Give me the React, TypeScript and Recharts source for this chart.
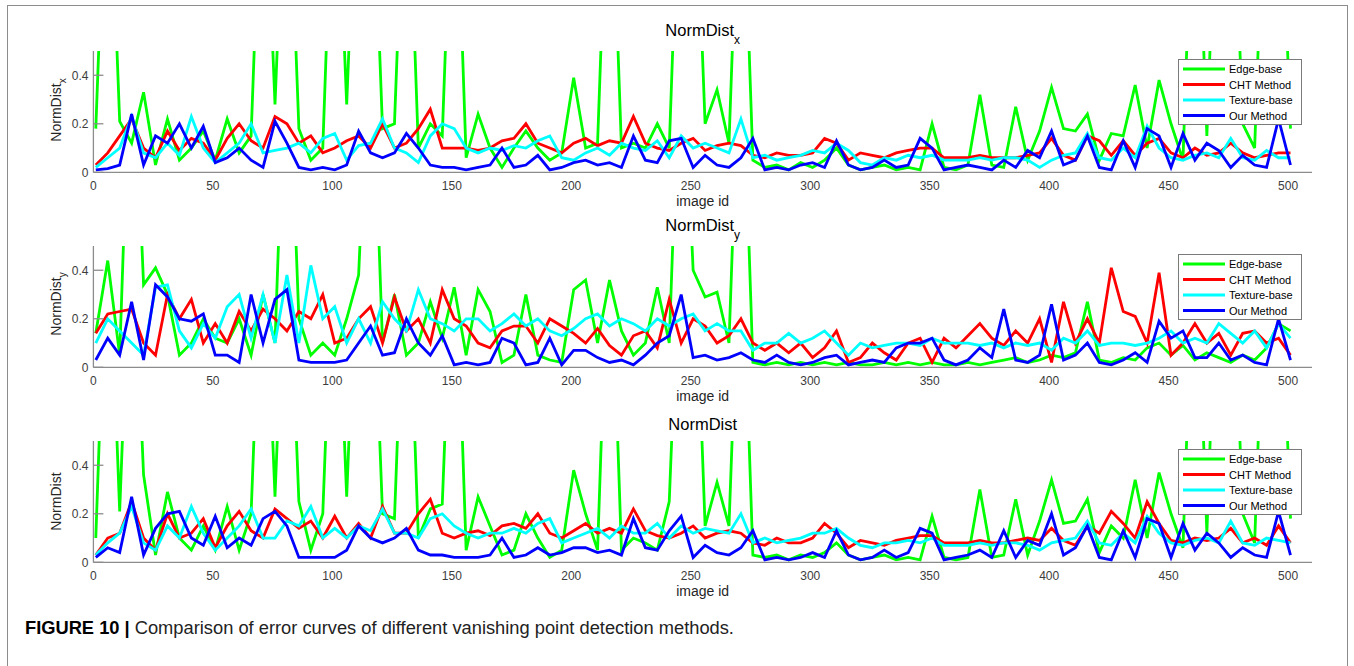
import React from 'react';
import { LineChart, Line, XAxis, YAxis, Legend } from 'recharts';

// image ids (sampled every 5 ids)
const imageIds = [
  1, 6, 11, 16, 21, 26, 31, 36, 41, 46,
  51, 56, 61, 66, 71, 76, 81, 86, 91, 96,
  101, 106, 111, 116, 121, 126, 131, 136, 141, 146,
  151, 156, 161, 166, 171, 176, 181, 186, 191, 196,
  201, 206, 211, 216, 221, 226, 231, 236, 241, 246,
  251, 256, 261, 266, 271, 276, 281, 286, 291, 296,
  301, 306, 311, 316, 321, 326, 331, 336, 341, 346,
  351, 356, 361, 366, 371, 376, 381, 386, 391, 396,
  401, 406, 411, 416, 421, 426, 431, 436, 441, 446,
  451, 456, 461, 466, 471, 476, 481, 486, 491, 496,
  501,
];

const xTicks = [0, 50, 100, 150, 200, 250, 300, 350, 400, 450, 500];
const yTicks = [0, 0.2, 0.4];
const seriesNames = ['Edge-base', 'CHT Method', 'Texture-base', 'Our Method'];

// ---------- NormDist_x ----------  (values above 0.5 are off-scale, clipped in the figure)
const edgeX = [
  0.18, 1.5, 0.21, 0.12, 0.33, 0.03, 0.22, 0.05, 0.1, 0.17,
  0.05, 0.22, 0.08, 0.15, 1.5, 0.28, 1.5, 0.18, 0.05, 0.1,
  1.5, 0.28, 1.5, 1.5, 0.18, 0.2, 1.5, 0.1, 0.2, 0.15,
  1.5, 0.06, 0.24, 0.1, 0.02, 0.1, 0.17, 0.1, 0.05, 0.08,
  0.39, 0.1, 0.12, 1.5, 0.1, 0.12, 0.1, 0.2, 0.1, 1.5,
  1.5, 0.2, 0.34, 0.12, 1.5, 0.05, 0.02, 0.03, 0.01, 0.04,
  0.02, 0.05, 0.1, 0.03, 0.01, 0.02, 0.03, 0.01, 0.02, 0.01,
  0.2, 0.02, 0.01, 0.03, 0.32, 0.03, 0.02, 0.27, 0.05, 0.17,
  0.35, 0.18, 0.17, 0.24, 0.05, 0.16, 0.15, 0.36, 0.1, 0.38,
  0.2, 0.05, 1.5, 0.15, 1.5, 1.5, 0.2, 0.1, 1.5, 1.5,
  0.18,
];
const chtX = [
  0.03, 0.08, 0.15, 0.22, 0.1, 0.06, 0.17, 0.09, 0.14, 0.12,
  0.05, 0.14, 0.2, 0.13, 0.1, 0.23, 0.2, 0.12, 0.15, 0.08,
  0.1, 0.13, 0.15, 0.1, 0.2, 0.1, 0.12, 0.18, 0.26, 0.1,
  0.1, 0.1, 0.09, 0.1, 0.13, 0.14, 0.2, 0.12, 0.1, 0.08,
  0.12, 0.14, 0.11, 0.13, 0.12, 0.23, 0.12, 0.1, 0.09, 0.12,
  0.14, 0.09, 0.11, 0.12, 0.11, 0.07, 0.06, 0.08, 0.07, 0.07,
  0.08, 0.14, 0.12, 0.05, 0.08, 0.07, 0.06, 0.08, 0.09, 0.1,
  0.1, 0.06, 0.06, 0.06, 0.07, 0.06, 0.06, 0.06, 0.07, 0.08,
  0.14, 0.07, 0.05, 0.15, 0.13, 0.07, 0.13, 0.07, 0.12, 0.14,
  0.08, 0.06, 0.1, 0.07, 0.08, 0.12, 0.08, 0.06, 0.07, 0.08,
  0.08,
];
const textureX = [
  0.02, 0.06, 0.1, 0.23, 0.08, 0.06, 0.12, 0.07, 0.23, 0.1,
  0.04, 0.08, 0.12, 0.2, 0.08, 0.09, 0.1, 0.12, 0.08, 0.14,
  0.16, 0.05, 0.11, 0.12, 0.22, 0.1, 0.08, 0.04, 0.15, 0.2,
  0.18, 0.1, 0.08, 0.1, 0.09, 0.11, 0.1, 0.13, 0.15, 0.06,
  0.05, 0.08, 0.1, 0.07, 0.12, 0.1, 0.09, 0.13, 0.06, 0.15,
  0.1, 0.12, 0.1, 0.08, 0.22, 0.06, 0.07, 0.05, 0.06, 0.07,
  0.09, 0.08, 0.12, 0.09, 0.04, 0.03, 0.06, 0.05, 0.07, 0.06,
  0.07, 0.05, 0.05, 0.05, 0.06, 0.05, 0.06, 0.06, 0.05, 0.02,
  0.05, 0.07, 0.08, 0.16, 0.06, 0.05, 0.1, 0.06, 0.19, 0.1,
  0.06, 0.05, 0.07, 0.08, 0.06, 0.14, 0.06, 0.05, 0.09, 0.06,
  0.06,
];
const ourX = [
  0.01, 0.015, 0.03, 0.24, 0.03, 0.15, 0.12, 0.2, 0.1, 0.19,
  0.04, 0.06, 0.1, 0.05, 0.02, 0.21, 0.12, 0.02, 0.01, 0.02,
  0.01, 0.03, 0.17, 0.08, 0.06, 0.08, 0.16, 0.1, 0.03, 0.02,
  0.02, 0.01, 0.02, 0.03, 0.1, 0.02, 0.03, 0.07, 0.01, 0.02,
  0.04, 0.05, 0.03, 0.04, 0.02, 0.15, 0.05, 0.04, 0.13, 0.14,
  0.02, 0.07, 0.03, 0.02, 0.06, 0.14, 0.01, 0.02, 0.01, 0.03,
  0.04, 0.02, 0.13, 0.03, 0.01, 0.02, 0.05, 0.02, 0.03, 0.14,
  0.1, 0.01, 0.02, 0.03, 0.02, 0.01, 0.05, 0.02, 0.09, 0.06,
  0.17, 0.03, 0.05, 0.15, 0.02, 0.01, 0.13, 0.02, 0.18, 0.15,
  0.02, 0.16, 0.05, 0.12, 0.09, 0.02, 0.07, 0.03, 0.02, 0.22,
  0.03,
];

// ---------- NormDist_y ----------
const edgeY = [
  0.14, 0.44, 0.05, 1.5, 0.34, 0.41, 0.3, 0.05, 0.1, 0.2,
  0.12, 0.1, 0.2, 0.05, 0.3, 0.1, 1.5, 0.2, 0.05, 0.1,
  0.05, 0.2, 0.38, 1.5, 0.1, 0.3, 0.05, 0.1, 0.27, 0.12,
  0.33, 0.05, 0.32, 0.23, 0.02, 0.05, 0.3, 0.05, 0.03, 0.02,
  0.32, 0.36, 0.1, 0.36, 0.15, 0.05, 0.1, 0.33, 0.1, 1.5,
  0.4, 0.29, 0.31, 0.1, 1.5, 0.02, 0.01, 0.02, 0.01, 0.02,
  0.01, 0.02, 0.01, 0.02, 0.01, 0.01, 0.02, 0.01, 0.02, 0.01,
  0.02, 0.01, 0.01, 0.02, 0.01, 0.02, 0.03, 0.04, 0.02, 0.03,
  0.05, 0.04, 0.06, 0.27, 0.03, 0.02, 0.04, 0.03, 0.08, 0.1,
  0.05, 0.09, 0.03, 0.06, 0.04, 0.02, 0.05, 0.03, 0.08, 0.18,
  0.15,
];
const chtY = [
  0.14, 0.22, 0.23, 0.24, 0.1, 0.05, 0.3, 0.2, 0.28, 0.1,
  0.18, 0.1, 0.23, 0.15, 0.24, 0.2, 0.15, 0.23, 0.2, 0.3,
  0.1, 0.12, 0.2, 0.25, 0.1, 0.29, 0.15, 0.2, 0.1, 0.32,
  0.2, 0.17, 0.1, 0.08, 0.15, 0.17, 0.17, 0.1, 0.2, 0.17,
  0.14, 0.1, 0.16, 0.09, 0.05, 0.13, 0.15, 0.08, 0.28, 0.1,
  0.2, 0.17, 0.1, 0.13, 0.2, 0.1, 0.07, 0.1, 0.06, 0.1,
  0.04, 0.08, 0.15, 0.02, 0.04, 0.1, 0.06, 0.03, 0.1, 0.12,
  0.02, 0.12, 0.08, 0.13, 0.18, 0.12, 0.09, 0.15, 0.1, 0.2,
  0.02, 0.27, 0.1, 0.2, 0.1, 0.41, 0.23, 0.21, 0.1, 0.39,
  0.05, 0.1, 0.18, 0.1, 0.14, 0.05, 0.14, 0.15, 0.1, 0.12,
  0.05,
];
const textureY = [
  0.1, 0.2, 0.15, 0.1, 0.05, 0.33, 0.34, 0.15, 0.08, 0.18,
  0.12, 0.25, 0.3, 0.12, 0.3, 0.1, 0.38, 0.1, 0.42, 0.2,
  0.25, 0.1, 0.2, 0.1, 0.27, 0.2, 0.15, 0.32, 0.2, 0.18,
  0.15, 0.2, 0.2, 0.15, 0.18, 0.22, 0.17, 0.2, 0.15, 0.13,
  0.16, 0.2, 0.22, 0.17, 0.2, 0.18, 0.15, 0.2, 0.17, 0.2,
  0.22, 0.15, 0.18, 0.15, 0.15, 0.07, 0.1, 0.1, 0.14, 0.1,
  0.12, 0.15, 0.1, 0.05, 0.1, 0.08, 0.09, 0.1, 0.1, 0.09,
  0.12, 0.1, 0.1, 0.1, 0.09, 0.1, 0.08, 0.1, 0.09, 0.1,
  0.07, 0.12, 0.1, 0.15, 0.09, 0.1, 0.1, 0.09, 0.1, 0.12,
  0.15, 0.1, 0.12, 0.1, 0.18, 0.14, 0.1, 0.15, 0.08, 0.18,
  0.12,
];
const ourY = [
  0.03, 0.12, 0.05, 0.27, 0.03, 0.34, 0.29, 0.2, 0.19, 0.22,
  0.05, 0.05, 0.02, 0.3, 0.1, 0.28, 0.32, 0.03, 0.02, 0.02,
  0.02, 0.03, 0.1, 0.17, 0.05, 0.06, 0.2, 0.1, 0.05, 0.13,
  0.01, 0.02, 0.01, 0.02, 0.12, 0.1, 0.01, 0.02, 0.12, 0.01,
  0.07, 0.07, 0.04, 0.02, 0.03, 0.01, 0.05, 0.1, 0.13, 0.3,
  0.04, 0.05, 0.03, 0.04, 0.06, 0.03, 0.02, 0.05, 0.02, 0.01,
  0.02, 0.04, 0.05, 0.01, 0.02, 0.03, 0.02, 0.08, 0.1, 0.1,
  0.12, 0.03, 0.01, 0.03, 0.08, 0.04, 0.24, 0.03, 0.02, 0.05,
  0.26, 0.03, 0.05, 0.1, 0.02, 0.01, 0.03, 0.06, 0.02, 0.19,
  0.12, 0.15, 0.04, 0.04, 0.1, 0.03, 0.05, 0.02, 0.01, 0.2,
  0.03,
];

// ---------- NormDist ----------
const edgeD = [
  0.1, 1.5, 0.21, 1.5, 0.36, 0.03, 0.29, 0.1, 0.05, 0.15,
  0.05, 0.23, 0.05, 0.2, 1.5, 0.27, 1.5, 0.25, 0.05, 0.2,
  1.5, 0.27, 1.5, 1.5, 0.2, 0.18, 1.5, 0.1, 0.22, 0.24,
  1.5, 0.05, 0.27, 0.15, 0.03, 0.05, 0.2, 0.1, 0.02, 0.05,
  0.38, 0.2, 0.05, 1.5, 0.05, 0.1, 0.08, 0.05, 0.25, 1.5,
  1.5, 0.15, 0.33, 0.15, 1.5, 0.03, 0.02, 0.03, 0.01, 0.03,
  0.02, 0.04, 0.08, 0.03, 0.01, 0.02, 0.03, 0.01, 0.02, 0.01,
  0.19, 0.02, 0.01, 0.02, 0.3, 0.02, 0.03, 0.26, 0.03, 0.17,
  0.34, 0.16, 0.17, 0.26, 0.04, 0.15, 0.1, 0.34, 0.1, 0.37,
  0.2, 0.06, 1.5, 0.12, 1.5, 1.5, 0.2, 0.08, 1.5, 1.5,
  0.18,
];
const chtD = [
  0.03, 0.1, 0.12, 0.25, 0.1, 0.05, 0.2, 0.1, 0.12, 0.18,
  0.06, 0.15, 0.21, 0.13, 0.1, 0.22, 0.18, 0.14, 0.17, 0.1,
  0.19, 0.1, 0.16, 0.1, 0.23, 0.12, 0.12, 0.2, 0.26, 0.12,
  0.1, 0.12, 0.13, 0.11, 0.15, 0.16, 0.14, 0.2, 0.12, 0.1,
  0.13, 0.16, 0.12, 0.14, 0.12, 0.22, 0.13, 0.11, 0.1, 0.12,
  0.15, 0.1, 0.12, 0.13, 0.12, 0.08, 0.07, 0.1, 0.08, 0.08,
  0.1, 0.16, 0.12, 0.06, 0.09, 0.08, 0.07, 0.09, 0.1, 0.11,
  0.11, 0.08, 0.08, 0.08, 0.09, 0.08, 0.08, 0.09, 0.1, 0.09,
  0.14, 0.09, 0.07, 0.15, 0.12, 0.21, 0.16, 0.1, 0.25, 0.16,
  0.09, 0.08, 0.1, 0.09, 0.1, 0.14, 0.08, 0.1, 0.07, 0.15,
  0.08,
];
const textureD = [
  0.03, 0.08, 0.12, 0.23, 0.08, 0.05, 0.15, 0.1, 0.23, 0.12,
  0.05, 0.1, 0.15, 0.22, 0.1, 0.1, 0.17, 0.15, 0.23, 0.1,
  0.14, 0.1, 0.15, 0.13, 0.22, 0.12, 0.12, 0.1, 0.18, 0.2,
  0.15, 0.12, 0.1, 0.12, 0.12, 0.14, 0.12, 0.16, 0.18, 0.08,
  0.1, 0.12, 0.14, 0.1, 0.15, 0.12, 0.12, 0.16, 0.1, 0.15,
  0.12, 0.14, 0.13, 0.12, 0.2, 0.08, 0.1, 0.08, 0.09, 0.1,
  0.12, 0.12, 0.14, 0.1, 0.07, 0.06, 0.08, 0.08, 0.09, 0.08,
  0.1, 0.07, 0.07, 0.07, 0.08, 0.07, 0.08, 0.08, 0.07, 0.05,
  0.08, 0.09, 0.1, 0.17, 0.08, 0.07, 0.12, 0.08, 0.19, 0.12,
  0.08, 0.07, 0.09, 0.1, 0.08, 0.17, 0.08, 0.07, 0.1, 0.09,
  0.08,
];
const ourD = [
  0.02, 0.06, 0.04, 0.27, 0.03, 0.14, 0.2, 0.21, 0.1, 0.07,
  0.19, 0.06, 0.1, 0.07, 0.18, 0.21, 0.15, 0.02, 0.02, 0.02,
  0.02, 0.05, 0.15, 0.1, 0.08, 0.1, 0.14, 0.05, 0.03, 0.03,
  0.02, 0.02, 0.02, 0.03, 0.1, 0.02, 0.03, 0.06, 0.03, 0.04,
  0.06, 0.06, 0.04, 0.05, 0.03, 0.18, 0.06, 0.05, 0.13, 0.19,
  0.02, 0.07, 0.04, 0.03, 0.06, 0.13, 0.01, 0.02, 0.01, 0.02,
  0.04, 0.02, 0.13, 0.03, 0.01, 0.02, 0.05, 0.02, 0.04, 0.14,
  0.12, 0.01, 0.02, 0.03, 0.05, 0.02, 0.13, 0.02, 0.09, 0.07,
  0.2, 0.03, 0.06, 0.15, 0.02, 0.01, 0.13, 0.02, 0.18, 0.16,
  0.02, 0.16, 0.05, 0.12, 0.08, 0.02, 0.06, 0.03, 0.02, 0.21,
  0.03,
];

const FONT = '"Liberation Sans", Arial, Helvetica, sans-serif';
const COLORS = ['#00ff00', '#ff0000', '#00ffff', '#0000ff'];
const AXIS_COLOR = '#8c8c8c';
const TICK_COLOR = '#3c3c3c';

const CHART_W = 1354;
const CHART_H = 195;
const PLOT_LEFT = 93.4;
const PLOT_RIGHT = 1312;
const PLOT_TOP = 51;
const PLOT_BOTTOM = 172.3;
const Y_AXIS_W = 40;
const X_AXIS_H = 20;

const buildRows = (a: number[], b: number[], c: number[], d: number[]) =>
  imageIds.map((id, i) => ({ id, edge: a[i], cht: b[i], texture: c[i], our: d[i] }));

const rowsX = buildRows(edgeX, chtX, textureX, ourX);
const rowsY = buildRows(edgeY, chtY, textureY, ourY);
const rowsD = buildRows(edgeD, chtD, textureD, ourD);

const YTick = (props: any) => {
  const { x, y, payload } = props;
  const axisX = x + 5;
  return (
    <g>
      <line x1={axisX} x2={axisX + 10} y1={y} y2={y} stroke={AXIS_COLOR} strokeWidth={1.3} />
      <text x={x} y={y} dy={4.3} textAnchor="end" fontSize={12} fill={TICK_COLOR} fontFamily={FONT}>
        {String(payload.value)}
      </text>
    </g>
  );
};

const LegendBox = (props: any) => {
  const payload = [...(props.payload || [])].sort(
    (a: any, b: any) => seriesNames.indexOf(a.value) - seriesNames.indexOf(b.value)
  );
  return (
    <svg width={124} height={66} style={{ display: 'block' }}>
      <rect x={0.5} y={0.5} width={123} height={65} fill="#ffffff" stroke="#7a7a7a" strokeWidth={1} />
      {payload.map((e: any, i: number) => {
        const cy = 10 + i * 15.5;
        return (
          <g key={i}>
            <line x1={5} x2={47} y1={cy} y2={cy} stroke={e.color} strokeWidth={3} />
            <text x={51} y={cy + 4} fontSize={11} fill="#000000" fontFamily={FONT}>
              {e.value}
            </text>
          </g>
        );
      })}
    </svg>
  );
};

const keys = ['edge', 'cht', 'texture', 'our'];

const Panel = ({ top, rows }: { top: number; rows: any[] }) => (
  <div style={{ position: 'absolute', left: 0, top }}>
    <LineChart
      width={CHART_W}
      height={CHART_H}
      data={rows}
      margin={{
        top: PLOT_TOP,
        right: CHART_W - PLOT_RIGHT,
        bottom: CHART_H - PLOT_BOTTOM - X_AXIS_H,
        left: PLOT_LEFT - Y_AXIS_W,
      }}
    >
      <XAxis
        dataKey="id"
        type="number"
        domain={[0, 510]}
        ticks={xTicks}
        interval={0}
        height={X_AXIS_H}
        tickSize={0}
        tickMargin={9}
        tickLine={false}
        axisLine={{ stroke: AXIS_COLOR, strokeWidth: 1.3 }}
        tick={{ fontSize: 12, fill: TICK_COLOR, fontFamily: FONT }}
      />
      <YAxis
        type="number"
        domain={[0, 0.5]}
        ticks={yTicks}
        interval={0}
        allowDataOverflow
        width={Y_AXIS_W}
        tickSize={0}
        tickMargin={5}
        tickLine={false}
        axisLine={{ stroke: AXIS_COLOR, strokeWidth: 1.3 }}
        tick={<YTick />}
      />
      {keys.map((k, i) => (
        <Line
          key={k}
          type="linear"
          dataKey={k}
          name={seriesNames[i]}
          stroke={COLORS[i]}
          strokeWidth={2.8}
          dot={false}
          activeDot={false}
          isAnimationActive={false}
        />
      ))}
      <Legend
        layout="horizontal"
        align="center"
        verticalAlign="middle"
        width={124}
        height={66}
        content={<LegendBox />}
        wrapperStyle={{ left: 1178, top: 59, width: 124, height: 66 }}
      />
    </LineChart>
  </div>
);

const PANEL_TOPS = [0, 195, 390];
const titleMain = ['NormDist', 'NormDist', 'NormDist'];
const titleSub = ['x', 'y', ''];
const titleBaselines = [36, 231, 430];
const yLabelCenters = [110, 304, 501.6];
const plotCenterX = (PLOT_LEFT + PLOT_RIGHT) / 2;

export default function App() {
  return (
    <div
      style={{
        position: 'absolute',
        left: 0,
        top: 0,
        width: 1354,
        height: 666,
        background: '#ffffff',
        overflow: 'hidden',
        fontFamily: FONT,
      }}
    >
      <div
        style={{
          position: 'absolute',
          left: 7,
          top: 5,
          width: 1341,
          height: 700,
          border: `1.5px solid ${AXIS_COLOR}`,
          boxSizing: 'border-box',
        }}
      />
      <Panel top={PANEL_TOPS[0]} rows={rowsX} />
      <Panel top={PANEL_TOPS[1]} rows={rowsY} />
      <Panel top={PANEL_TOPS[2]} rows={rowsD} />
      <svg
        width={1354}
        height={666}
        style={{ position: 'absolute', left: 0, top: 0, pointerEvents: 'none' }}
      >
        {PANEL_TOPS.map((pt, i) => (
          <g key={i} fontFamily={FONT}>
            <text x={plotCenterX} y={titleBaselines[i]} textAnchor="middle" fontSize={16.5} fill="#000">
              {titleMain[i]}
              {titleSub[i] ? (
                <tspan dy={8} fontSize={12}>
                  {titleSub[i]}
                </tspan>
              ) : null}
            </text>
            <text x={plotCenterX} y={pt + PLOT_BOTTOM + 34} textAnchor="middle" fontSize={14} fill="#262626">
              image id
            </text>
            <text
              transform={`translate(61, ${yLabelCenters[i]}) rotate(-90)`}
              textAnchor="middle"
              fontSize={14}
              fill="#262626"
            >
              NormDist
              {titleSub[i] ? (
                <tspan dy={5} fontSize={10}>
                  {titleSub[i]}
                </tspan>
              ) : null}
            </text>
          </g>
        ))}
        <text x={25} y={634} fontSize={18.3} fontFamily={FONT} fill="#222">
          <tspan fontWeight="bold" fill="#000">FIGURE 10 | </tspan>
          <tspan>Comparison of error curves of different vanishing point detection methods.</tspan>
        </text>
      </svg>
    </div>
  );
}
